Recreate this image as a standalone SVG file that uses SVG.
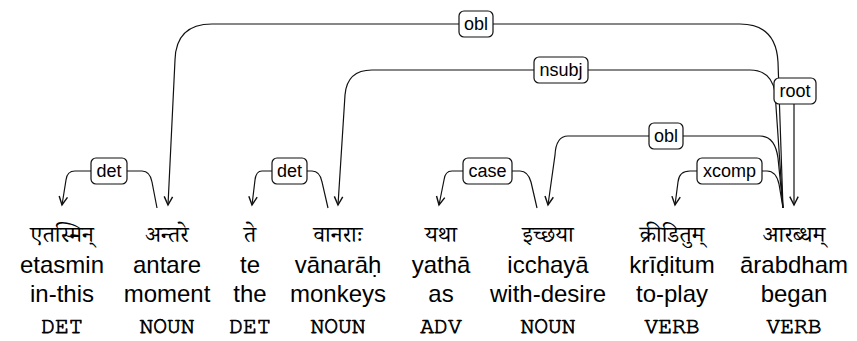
<svg xmlns="http://www.w3.org/2000/svg" width="857" height="341" viewBox="0 0 857 341">
<style>
.arc{fill:none;stroke:#111;stroke-width:1.2}
.lab rect{fill:#fff;stroke:#111;stroke-width:1.2}
.lab text{font-family:"Liberation Sans",Arial,sans-serif;font-size:18px;text-anchor:middle;fill:#000}
.dev{font-family:"Noto Serif Devanagari","Lohit Devanagari","Noto Sans Devanagari","Noto Sans",sans-serif;font-size:23px;text-anchor:middle;fill:#000}
.lat{font-family:"Liberation Sans",Arial,sans-serif;font-size:24px;text-anchor:middle;fill:#000}
.pos{font-family:"Nimbus Mono PS","FreeMono","Courier New","Liberation Mono",monospace;font-size:23px;text-anchor:middle;fill:#000;stroke:#000;stroke-width:0.75}
</style>
<defs>
<marker id="ah" markerUnits="userSpaceOnUse" markerWidth="12" markerHeight="12" viewBox="-8 -5 10 10" refX="0" refY="0" orient="auto">
<path d="M-7,-3.5 L0,0 L-7,3.5" fill="none" stroke="#111" stroke-width="1.2"/>
</marker>
</defs>
<g id="connectors">
<path class="arc" marker-end="url(#ah)" d="M783,208 L778,62 Q776,24 740,24 L212,24 Q176,24 175,60 L168,205"/>
<path class="arc" marker-end="url(#ah)" d="M783,208 L775,92 Q771,70 750,70 L372,70 Q347,70 345,95 L338,205"/>
<path class="arc" marker-end="url(#ah)" d="M783,208 L778,158 Q775,136 760,136 L568,136 Q556,136 555,155 L548,205"/>
<path class="arc" marker-end="url(#ah)" d="M783,208 L779,184 Q776,171 767,171 L690,171 Q679,171 678,182 L675,205"/>
<path class="arc" marker-end="url(#ah)" d="M537,208 L531,182 Q528,171 520,171 L452,171 Q445,171 444,180 L439,205"/>
<path class="arc" marker-end="url(#ah)" d="M328,208 L322,182 Q320,171 312,171 L262,171 Q256,171 255,180 L252,205"/>
<path class="arc" marker-end="url(#ah)" d="M157,208 L152,182 Q150,171 142,171 L75,171 Q67,171 66,180 L62,205"/>
<path class="arc" marker-end="url(#ah)" d="M794,104 L794,205"/>
</g>
<g id="labels">
<g class="lab" id="lab-obl1"><rect x="459" y="11" width="34" height="26" rx="5"/><text x="476" y="30">obl</text></g>
<g class="lab" id="lab-nsubj"><rect x="534" y="57" width="54" height="26" rx="5"/><text x="561" y="76">nsubj</text></g>
<g class="lab" id="lab-root"><rect x="774" y="78" width="42" height="26" rx="5"/><text x="795" y="97">root</text></g>
<g class="lab" id="lab-obl2"><rect x="649" y="123" width="34" height="26" rx="5"/><text x="666" y="142">obl</text></g>
<g class="lab" id="lab-det1"><rect x="91" y="158" width="36" height="26" rx="5"/><text x="109" y="177">det</text></g>
<g class="lab" id="lab-det2"><rect x="272" y="158" width="35" height="26" rx="5"/><text x="289.5" y="177">det</text></g>
<g class="lab" id="lab-case"><rect x="463" y="158" width="49" height="26" rx="5"/><text x="487.5" y="177">case</text></g>
<g class="lab" id="lab-xcomp"><rect x="697" y="158" width="65" height="26" rx="5"/><text x="729.5" y="177">xcomp</text></g>
</g>
<g id="w1"><text class="dev" x="62" y="242">एतस्मिन्</text><text class="lat" x="62" y="273">etasmin</text><text class="lat" x="62" y="302">in-this</text><text class="pos" x="62" y="333">DET</text></g>
<g id="w2"><text class="dev" x="167" y="242">अन्तरे</text><text class="lat" x="167" y="273">antare</text><text class="lat" x="167" y="302">moment</text><text class="pos" x="167" y="333">NOUN</text></g>
<g id="w3"><text class="dev" x="250" y="242">ते</text><text class="lat" x="250" y="273">te</text><text class="lat" x="250" y="302">the</text><text class="pos" x="250" y="333">DET</text></g>
<g id="w4"><text class="dev" x="338" y="242">वानराः</text><text class="lat" x="338" y="273">vānarāḥ</text><text class="lat" x="338" y="302">monkeys</text><text class="pos" x="338" y="333">NOUN</text></g>
<g id="w5"><text class="dev" x="441" y="242">यथा</text><text class="lat" x="441" y="273">yathā</text><text class="lat" x="441" y="302">as</text><text class="pos" x="441" y="333">ADV</text></g>
<g id="w6"><text class="dev" x="548" y="242">इच्छया</text><text class="lat" x="548" y="273">icchayā</text><text class="lat" x="548" y="302">with-desire</text><text class="pos" x="548" y="333">NOUN</text></g>
<g id="w7"><text class="dev" x="672" y="242">क्रीडितुम्</text><text class="lat" x="672" y="273">krīḍitum</text><text class="lat" x="672" y="302">to-play</text><text class="pos" x="672" y="333">VERB</text></g>
<g id="w8"><text class="dev" x="794" y="242">आरब्धम्</text><text class="lat" x="794" y="273">ārabdham</text><text class="lat" x="794" y="302">began</text><text class="pos" x="794" y="333">VERB</text></g>
</svg>
